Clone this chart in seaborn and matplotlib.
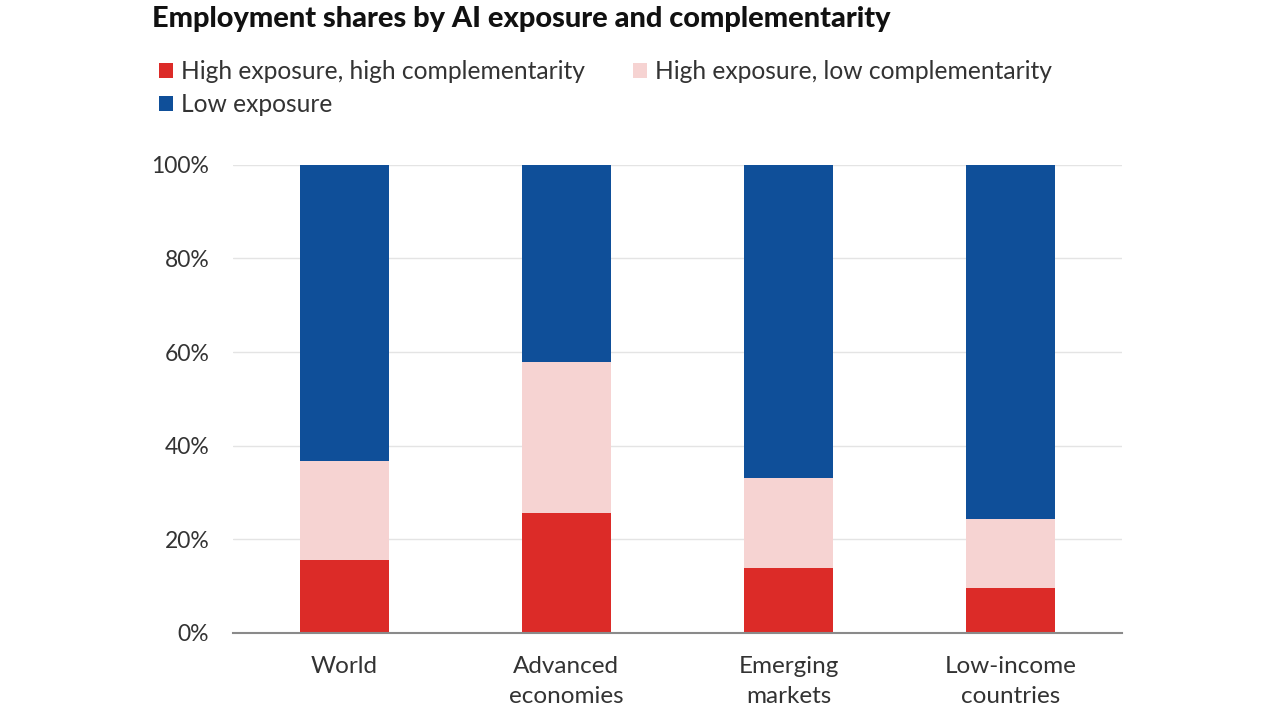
import matplotlib
matplotlib.use("Agg")
import matplotlib.pyplot as plt
from matplotlib.patches import Patch
from matplotlib.ticker import PercentFormatter
import numpy as np
import pandas as pd
import seaborn as sns

## --- data (percent of employment)
groups = ["World", "Advanced\neconomies", "Emerging\nmarkets", "Low-income\ncountries"]
high_high = [15.6, 25.7, 13.9, 9.6]
high_low = [21.1, 32.2, 19.2, 14.8]
low_exp = [63.3, 42.1, 66.9, 75.6]

series = ["High exposure, high complementarity",
          "High exposure, low complementarity",
          "Low exposure"]
colors = ["#DC2B28", "#F6D3D2", "#0F4F99"]

df = pd.DataFrame({"group": groups, "hh": high_high, "hl": high_low, "lo": low_exp})
df["top_hl"] = df["hh"] + df["hl"]
df["top_lo"] = df["top_hl"] + df["lo"]

sns.set_theme(style="white")
plt.rcParams["font.family"] = ["Lato", "DejaVu Sans"]

fig = plt.figure(figsize=(12.8, 7.2), dpi=100)
ax = fig.add_axes([0.182, 0.121, 0.6946, 0.650])

## --- stacked bars: draw cumulative heights from the top down
for col, c in [("top_lo", colors[2]), ("top_hl", colors[1]), ("hh", colors[0])]:
    sns.barplot(data=df, x="group", y=col, color=c, width=0.4,
                saturation=1, linewidth=0, ax=ax, zorder=3)

ax.set_xlim(-0.5, 3.5)
ax.set_ylim(0, 100)
ax.set_yticks(np.arange(0, 101, 20))
ax.yaxis.set_major_formatter(PercentFormatter(decimals=0))
ax.grid(axis="y", color="#E4E4E4", linewidth=1, zorder=0)
ax.set_xlabel("")
ax.set_ylabel("")
for s in ["top", "right", "left"]:
    ax.spines[s].set_visible(False)
ax.spines["bottom"].set_color("#8A8A8A")
ax.spines["bottom"].set_linewidth(1.5)
ax.spines["bottom"].set_zorder(4)
ax.tick_params(axis="y", length=0, pad=17, labelsize=16.5, labelcolor="#333333")
ax.tick_params(axis="x", length=0, pad=17, labelsize=17.5, labelcolor="#333333")
for t in ax.get_xticklabels():
    t.set_linespacing(1.5)

fig.text(0.119, 0.992, "Employment shares by AI exposure and complementarity",
         fontsize=20.8, fontweight="black", color="#111111", va="top", ha="left")

## --- legend: order so that ncol=2 fills rows like the original
handles = [Patch(facecolor=colors[i], edgecolor="none", label=series[i]) for i in (0, 2, 1)]
fig.legend(handles=handles, loc="upper left", bbox_to_anchor=(0.107, 0.947),
           ncol=2, frameon=False, fontsize=17.75, handlelength=0.58, handleheight=0.58,
           handletextpad=0.3, columnspacing=1.95, labelspacing=0.4,
           labelcolor="#333333")

fig.savefig("out.png", dpi=100, facecolor="white")
